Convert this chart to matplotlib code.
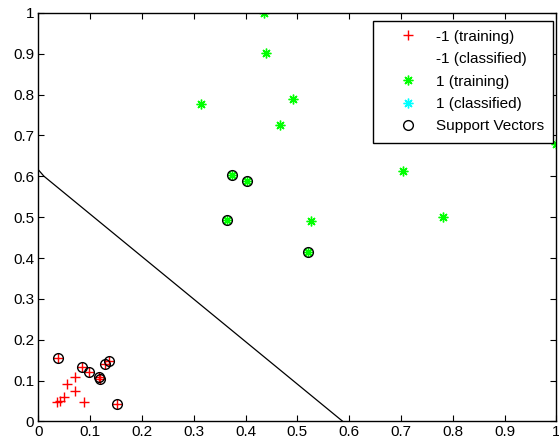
import matplotlib
matplotlib.use("Agg")
import matplotlib.pyplot as plt

plt.rcParams['font.family'] = ['Liberation Sans', 'DejaVu Sans']

# Class -1 training points (red plus)
neg_x = [0.039, 0.084, 0.097, 0.117, 0.120, 0.129, 0.136, 0.151,
         0.071, 0.055, 0.070, 0.049, 0.042, 0.037, 0.089]
neg_y = [0.156, 0.134, 0.121, 0.110, 0.103, 0.140, 0.149, 0.042,
         0.108, 0.091, 0.075, 0.059, 0.050, 0.047, 0.047]

# Class 1 training points (green asterisk)
pos_x = [0.436, 0.440, 0.314, 0.492, 0.466, 1.000, 0.704, 0.526, 0.782,
         0.373, 0.402, 0.365, 0.521]
pos_y = [1.000, 0.901, 0.778, 0.789, 0.725, 0.678, 0.614, 0.491, 0.500,
         0.602, 0.588, 0.494, 0.415]

# Support vectors (black circles)
sv_x = [0.039, 0.084, 0.097, 0.117, 0.120, 0.129, 0.136, 0.151,
        0.373, 0.402, 0.365, 0.521]
sv_y = [0.156, 0.134, 0.121, 0.110, 0.103, 0.140, 0.149, 0.042,
        0.602, 0.588, 0.494, 0.415]

# Decision boundary
boundary_x = [0.0, 0.011, 0.588]
boundary_y = [0.616, 0.600, 0.0]

ticks = [0, 0.1, 0.2, 0.3, 0.4, 0.5, 0.6, 0.7, 0.8, 0.9, 1]
tick_labels = ['0', '0.1', '0.2', '0.3', '0.4', '0.5', '0.6', '0.7', '0.8', '0.9', '1']

legend_labels = ['-1 (training)', '-1 (classified)', '1 (training)',
                 '1 (classified)', 'Support Vectors']

fig = plt.figure(figsize=(5.59, 4.44), dpi=100)
ax = fig.add_axes([0.0685, 0.0507, 0.9952 - 0.0685, 0.9712 - 0.0507])

star = (8, 2, 0)
h1, = ax.plot(neg_x, neg_y, linestyle='none', marker='+', color='red',
              markersize=7, markeredgewidth=1.0, label=legend_labels[0])
h2, = ax.plot([], [], linestyle='none', marker='', color='white',
              label=legend_labels[1])
h3, = ax.plot(pos_x, pos_y, linestyle='none', marker=star, color=(0, 1, 0),
              markersize=7, markeredgewidth=1.0, label=legend_labels[2])
h4, = ax.plot([], [], linestyle='none', marker=star, color=(0, 1, 1),
              markersize=7, markeredgewidth=1.0, label=legend_labels[3])
h5, = ax.plot(sv_x, sv_y, linestyle='none', marker='o', markerfacecolor='none',
              markeredgecolor='black', markersize=7, markeredgewidth=1.0,
              label=legend_labels[4])
ax.plot(boundary_x, boundary_y, color='black', linewidth=0.9)

ax.set_xlim(0, 1)
ax.set_ylim(0, 1)
ax.set_xticks(ticks)
ax.set_xticklabels(tick_labels)
ax.set_yticks(ticks)
ax.set_yticklabels(tick_labels)
ax.tick_params(direction='in', top=True, right=True, length=4, width=0.8,
               labelsize=11, colors='black')
ax.tick_params(axis='x', pad=2.5)
ax.tick_params(axis='y', pad=3.0)
for s in ax.spines.values():
    s.set_linewidth(1.0)

leg = ax.legend(handles=[h1, h2, h3, h4, h5], loc='upper right',
                bbox_to_anchor=(0.9942, 0.9807), borderaxespad=0,
                fancybox=False, framealpha=1, edgecolor='black', fontsize=11,
                borderpad=0.6, handlelength=3.3, handletextpad=0.2,
                labelspacing=0.55)
leg.get_frame().set_linewidth(1.0)

fig.savefig('out.png', dpi=100)
